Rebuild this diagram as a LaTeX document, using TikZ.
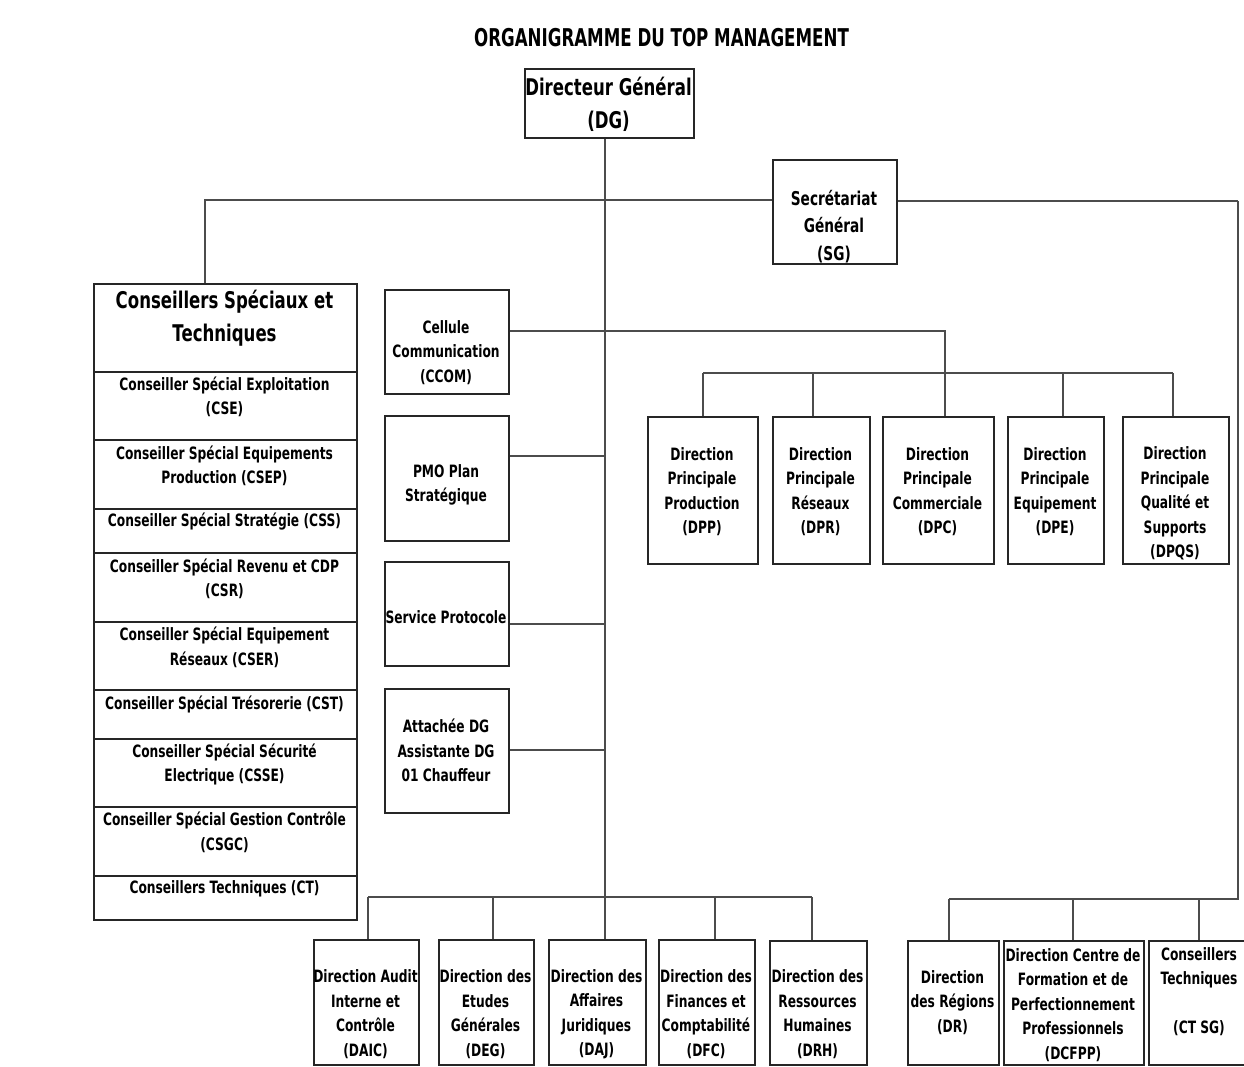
\documentclass[tikz,border=0pt]{standalone}
\usepackage{fontspec}
\setmainfont{DejaVu Sans}[FakeStretch=0.72]
\newfontfamily\titlefam{DejaVu Sans}[FakeStretch=0.68]
\tikzset{
  boxst/.style={draw=black!85, line width=1.5pt, inner sep=0pt, anchor=north west},
  txt/.style={align=center, inner sep=0pt, text=black, font=\bfseries\fontsize{17}{24.5}\selectfont},
  bigtxt/.style={txt, font=\bfseries\fontsize{23}{33}\selectfont},
  sgtxt/.style={txt, font=\bfseries\fontsize{19}{27.5}\selectfont},
  link/.style={draw=black!70, line width=1.3pt},
}
% #1 style, #2 name, #3 x1, #4 y1, #5 x2, #6 y2, #7 text centre y, #8 text
\newcommand\orgbox[8][txt]{%
  \node[boxst, minimum width={(#5-#3)*1pt}, minimum height={(#6-#4)*1pt}] (#2) at (#3,#4) {};
  \node[#1] (#2-t) at ({(#3+#5)/2},#7) {#8};
}
\begin{document}
\begin{tikzpicture}[x=1pt,y=-1pt]
\useasboundingbox (0,0) rectangle (1244,1066);
\clip (0,0) rectangle (1244,1066);
\fill[white] (0,0) rectangle (1244,1066);

\node[inner sep=0pt, font=\titlefam\bfseries\fontsize{24.5}{30}\selectfont] (title) at (661.5,37.5) {ORGANIGRAMME DU TOP MANAGEMENT};

% top
\orgbox[bigtxt]{dg}{524}{68}{693}{137}{104.5}{Directeur Général\\(DG)}
\orgbox[sgtxt]{sg}{772}{159}{896}{263}{226.5}{Secrétariat\\Général\\(SG)}

% left column
\orgbox[bigtxt]{cshead}{93}{283}{356}{371}{318.5}{Conseillers Spéciaux et\\Techniques}
\orgbox{cse}{93}{371}{356}{439}{397}{Conseiller Spécial Exploitation\\(CSE)}
\orgbox{csep}{93}{439}{356}{508}{466}{Conseiller Spécial Equipements\\Production (CSEP)}
\orgbox{css}{93}{508}{356}{552}{522}{Conseiller Spécial Stratégie (CSS)}
\orgbox{csr}{93}{552}{356}{621}{579}{Conseiller Spécial Revenu et CDP\\(CSR)}
\orgbox{cser}{93}{621}{356}{689}{647.5}{Conseiller Spécial Equipement\\Réseaux (CSER)}
\orgbox{cst}{93}{689}{356}{738}{704}{Conseiller Spécial Trésorerie (CST)}
\orgbox{csse}{93}{738}{356}{806}{764.5}{Conseiller Spécial Sécurité\\Electrique (CSSE)}
\orgbox{csgc}{93}{806}{356}{875}{832.5}{Conseiller Spécial Gestion Contrôle\\(CSGC)}
\orgbox{ct}{93}{875}{356}{919}{889}{Conseillers Techniques (CT)}

% middle column
\orgbox{ccom}{384}{289}{508}{393}{352.5}{Cellule\\Communication\\(CCOM)}
\orgbox{pmo}{384}{415}{508}{540}{485}{PMO Plan\\Stratégique}
\orgbox{sprot}{384}{561}{508}{665}{617}{Service Protocole}
\orgbox{att}{384}{688}{508}{812}{750.5}{Attachée DG\\Assistante DG\\01 Chauffeur}

% principal directions
\orgbox{dpp}{647}{416}{757}{563}{491.5}{Direction\\Principale\\Production\\(DPP)}
\orgbox{dpr}{772}{416}{869}{563}{491.5}{Direction\\Principale\\Réseaux\\(DPR)}
\orgbox{dpc}{882}{416}{993}{563}{491.5}{Direction\\Principale\\Commerciale\\(DPC)}
\orgbox{dpe}{1007}{416}{1103}{563}{491.5}{Direction\\Principale\\Equipement\\(DPE)}
\orgbox{dpqs}{1122}{416}{1228}{563}{503.5}{Direction\\Principale\\Qualité et\\Supports\\(DPQS)}

% bottom left directions
\orgbox{daic}{313}{939}{418}{1064}{1014}{Direction Audit\\Interne et\\Contrôle\\(DAIC)}
\orgbox{deg}{438}{939}{533}{1064}{1014}{Direction des\\Etudes\\Générales\\(DEG)}
\orgbox{daj}{548}{939}{645}{1064}{1014}{Direction des\\Affaires\\Juridiques\\(DAJ)}
\orgbox{dfc}{658}{939}{754}{1064}{1014}{Direction des\\Finances et\\Comptabilité\\(DFC)}
\orgbox{drh}{769}{940}{866}{1064}{1014}{Direction des\\Ressources\\Humaines\\(DRH)}

% bottom right
\orgbox{dr}{907}{940}{998}{1064}{1002.5}{Direction\\des Régions\\(DR)}
\orgbox{dcfpp}{1003}{940}{1143}{1064}{1005}{Direction Centre de\\Formation et de\\Perfectionnement\\Professionnels\\(DCFPP)}
\orgbox{ctsg}{1148}{940}{1250}{1064}{991.5}{Conseillers\\Techniques\\[24.5pt](CT SG)}

% ---- connectors ----
\coordinate (spx) at (605,0);
\coordinate (hlL) at (0,200);
\coordinate (hlR) at (0,201);
\coordinate (xL) at (205,0);
\coordinate (xR) at (1238,0);
\draw[link] (dg.south -| spx) -- (daj.north -| spx);
\draw[link] (xL |- cshead.north) -- (xL |- hlL) -- (sg.west |- hlL);
\draw[link] (sg.east |- hlR) -- (xR |- hlR);

% middle links
\coordinate (yCC) at (0,331);
\coordinate (yPMO) at (0,456);
\coordinate (ySP) at (0,624);
\coordinate (yATT) at (0,750);
\draw[link] (pmo.east |- yPMO) -- (spx |- yPMO);
\draw[link] (sprot.east |- ySP) -- (spx |- ySP);
\draw[link] (att.east |- yATT) -- (spx |- yATT);

% principal directions
\coordinate (jDPP) at (703,373);
\coordinate (jDPR) at (813,373);
\coordinate (jDPC) at (945,373);
\coordinate (jDPE) at (1063,373);
\coordinate (jDPQS) at (1173,373);
\draw[link] (ccom.east |- yCC) -| (jDPC |- dpc.north);
\draw[link] (jDPP) -- (jDPQS);
\foreach \n/\j in {dpp/jDPP, dpr/jDPR, dpe/jDPE, dpqs/jDPQS}
  \draw[link] (\j) -- (\j |- \n.north);

% bottom left
\coordinate (jDAIC) at (368,897);
\coordinate (jDEG) at (493,897);
\coordinate (jDFC) at (715,897);
\coordinate (jDRH) at (812,897);
\draw[link] (jDAIC) -- (jDRH);
\foreach \n/\j in {daic/jDAIC, deg/jDEG, dfc/jDFC, drh/jDRH}
  \draw[link] (\j) -- (\j |- \n.north);

% bottom right
\coordinate (jDR) at (949,899);
\coordinate (jDCF) at (1073,899);
\coordinate (jCT) at (1199,899);
\coordinate (jR) at (1238,899);
\draw[link] (xR |- hlR) -- (jR) -- (jDR);
\foreach \n/\j in {dr/jDR, dcfpp/jDCF, ctsg/jCT}
  \draw[link] (\j) -- (\j |- \n.north);
\end{tikzpicture}
\end{document}
